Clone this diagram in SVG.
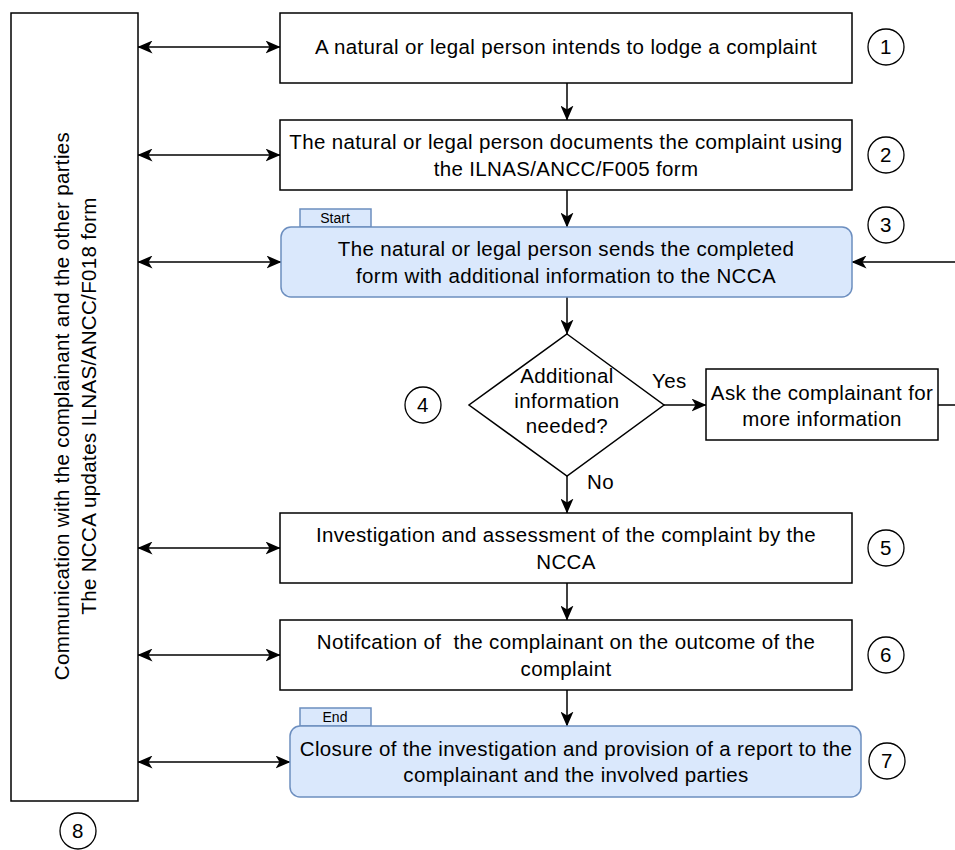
<svg xmlns="http://www.w3.org/2000/svg" width="955" height="850" viewBox="0 0 955 850">
<style>
text{font-family:"Liberation Sans",Arial,sans-serif;fill:#000;}
.t{font-size:20.5px;letter-spacing:0.35px;text-anchor:middle;}
.s{font-size:14px;text-anchor:middle;}
.box{fill:#fff;stroke:#000;stroke-width:1.5;}
.blue{fill:#dae8fc;stroke:#6c8ebf;stroke-width:1.5;}
.c{fill:#fff;stroke:#000;stroke-width:1.3;}
.ln{fill:none;stroke:#000;stroke-width:1.5;}
</style>
<defs>
<marker id="ah" viewBox="0 0 15 13" markerWidth="15" markerHeight="13" refX="14.5" refY="6.5" orient="auto-start-reverse" markerUnits="userSpaceOnUse">
<path d="M0,0 L15,6.5 L0,13 L4,6.5 z" fill="#000"/>
</marker>
</defs>
<g id="connectors">
<path class="ln" d="M138,47 H280" marker-start="url(#ah)" marker-end="url(#ah)"/>
<path class="ln" d="M138,155 H280" marker-start="url(#ah)" marker-end="url(#ah)"/>
<path class="ln" d="M138,262 H281" marker-start="url(#ah)" marker-end="url(#ah)"/>
<path class="ln" d="M138,548 H280" marker-start="url(#ah)" marker-end="url(#ah)"/>
<path class="ln" d="M138,655 H280" marker-start="url(#ah)" marker-end="url(#ah)"/>
<path class="ln" d="M138,762 H290" marker-start="url(#ah)" marker-end="url(#ah)"/>
<path class="ln" d="M567,83 V120" marker-end="url(#ah)"/>
<path class="ln" d="M567,190 V227" marker-end="url(#ah)"/>
<path class="ln" d="M567,297 V334" marker-end="url(#ah)"/>
<path class="ln" d="M567,476 V513" marker-end="url(#ah)"/>
<path class="ln" d="M567,583 V620" marker-end="url(#ah)"/>
<path class="ln" d="M567,690 V726" marker-end="url(#ah)"/>
<path class="ln" d="M664,405 H706" marker-end="url(#ah)"/>
<path class="ln" d="M938,405 H960 V262 H852" marker-end="url(#ah)"/>
<text x="652" y="388" style="font-size:20.5px;letter-spacing:0.35px">Yes</text>
<text x="587" y="489" style="font-size:20.5px;letter-spacing:0.35px">No</text>
</g>
<g id="side">
<rect class="box" x="11" y="13" width="127" height="788"/>
<text class="t" transform="translate(69,406) rotate(-90)">Communication with the complainant and the other parties</text>
<text class="t" transform="translate(96,406) rotate(-90)">The NCCA updates ILNAS/ANCC/F018 form</text>
</g>
<g id="n1">
<rect class="box" x="280" y="13" width="572" height="70"/>
<text class="t" x="566" y="54">A natural or legal person intends to lodge a complaint</text>
</g>
<g id="n2">
<rect class="box" x="280" y="120" width="572" height="70"/>
<text class="t" x="566" y="149">The natural or legal person documents the complaint using</text>
<text class="t" x="566" y="176">the ILNAS/ANCC/F005 form</text>
</g>
<g id="n3">
<rect class="blue" x="300" y="209" width="71" height="18"/>
<text class="s" x="335" y="223">Start</text>
<rect class="blue" x="281" y="227" width="571" height="70" rx="10"/>
<text class="t" x="566" y="256">The natural or legal person sends the completed</text>
<text class="t" x="566" y="283">form with additional information to the NCCA</text>
</g>
<g id="n4">
<polygon class="box" points="567,334 664,405 567,476 469,405"/>
<text class="t" x="567" y="383">Additional</text>
<text class="t" x="567" y="408">information</text>
<text class="t" x="567" y="433">needed?</text>
</g>
<g id="n4b">
<rect class="box" x="706" y="369" width="232" height="71"/>
<text class="t" x="822" y="400">Ask the complainant for</text>
<text class="t" x="822" y="426">more information</text>
</g>
<g id="n5">
<rect class="box" x="280" y="513" width="572" height="70"/>
<text class="t" x="566" y="542">Investigation and assessment of the complaint by the</text>
<text class="t" x="566" y="569">NCCA</text>
</g>
<g id="n6">
<rect class="box" x="280" y="620" width="572" height="70"/>
<text class="t" x="566" y="649" xml:space="preserve">Notifcation of  the complainant on the outcome of the</text>
<text class="t" x="566" y="676">complaint</text>
</g>
<g id="n7">
<rect class="blue" x="300" y="708" width="71" height="18"/>
<text class="s" x="335" y="722">End</text>
<rect class="blue" x="290" y="726" width="571" height="71" rx="10"/>
<text class="t" x="576" y="756">Closure of the investigation and provision of a report to the</text>
<text class="t" x="576" y="782">complainant and the involved parties</text>
</g>
<g id="labels">
<circle class="c" cx="886" cy="47" r="18"/><text class="t" x="886" y="54">1</text>
<circle class="c" cx="886" cy="155" r="18"/><text class="t" x="886" y="162">2</text>
<circle class="c" cx="886" cy="225" r="18"/><text class="t" x="886" y="232">3</text>
<circle class="c" cx="423" cy="405" r="18"/><text class="t" x="423" y="412">4</text>
<circle class="c" cx="886" cy="548" r="18"/><text class="t" x="886" y="555">5</text>
<circle class="c" cx="886" cy="655" r="18"/><text class="t" x="886" y="662">6</text>
<circle class="c" cx="887" cy="761" r="18"/><text class="t" x="887" y="768">7</text>
<circle class="c" cx="78" cy="831" r="18"/><text class="t" x="78" y="838">8</text>
</g>
</svg>
